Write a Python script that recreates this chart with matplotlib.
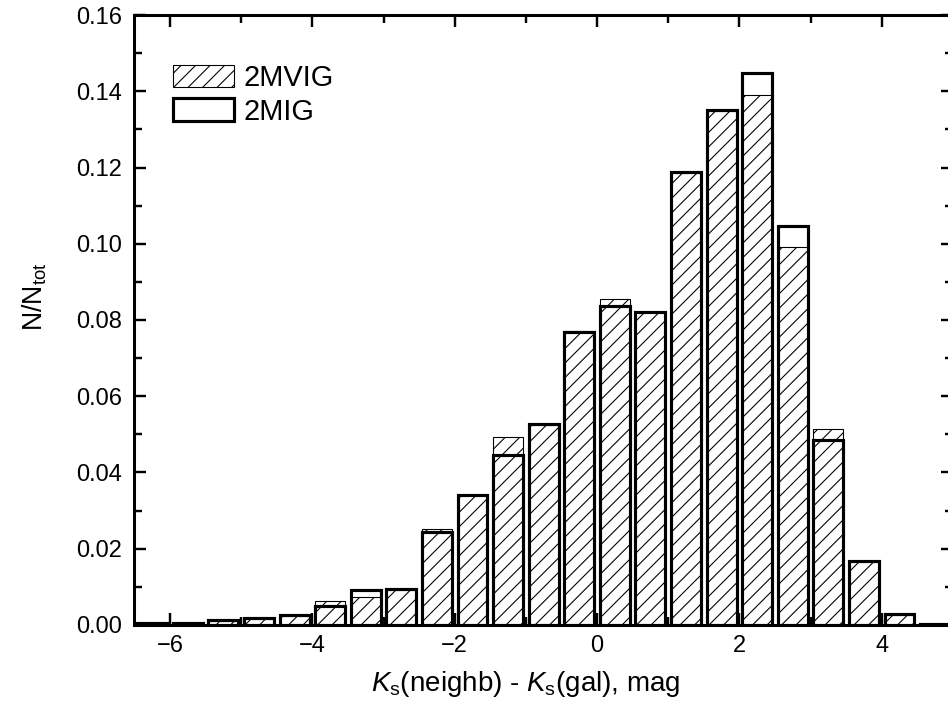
import matplotlib
matplotlib.use("Agg")
import matplotlib.pyplot as plt
from matplotlib.patches import Patch
from matplotlib.ticker import MultipleLocator, FormatStrFormatter

plt.rcParams['font.family'] = ['Liberation Sans', 'DejaVu Sans']
plt.rcParams['mathtext.fontset'] = 'custom'
plt.rcParams['mathtext.rm'] = 'Liberation Sans'
plt.rcParams['mathtext.it'] = 'Liberation Sans:italic'
plt.rcParams['hatch.linewidth'] = 0.9

# bin centres, 0.5 mag wide
dK = [-6.25, -5.75, -5.25, -4.75, -4.25, -3.75, -3.25, -2.75, -2.25, -1.75,
      -1.25, -0.75, -0.25, 0.25, 0.75, 1.25, 1.75, 2.25, 2.75, 3.25,
      3.75, 4.25, 4.75]

frac_2mig = [0.0005, 0.0005, 0.0012, 0.0018, 0.0025, 0.0050, 0.0092, 0.0095,
             0.0243, 0.0342, 0.0447, 0.0527, 0.0769, 0.0837, 0.0822, 0.1187,
             0.1351, 0.1447, 0.1047, 0.0484, 0.0168, 0.0029, 0.0003]

frac_2mvig = [0.0005, 0.0004, 0.0010, 0.0017, 0.0024, 0.0064, 0.0073, 0.0092,
              0.0253, 0.0340, 0.0494, 0.0525, 0.0772, 0.0856, 0.0820, 0.1185,
              0.1349, 0.1390, 0.0992, 0.0514, 0.0166, 0.0027, 0.0002]

dpi = 87
fig = plt.figure(figsize=(948 / dpi, 705 / dpi), dpi=dpi)
ax = fig.add_axes([0.1418, 0.1135, 0.8634, 0.8652])

bw = 0.42
ax.bar(dK, frac_2mvig, width=bw, color='white', edgecolor='black',
       linewidth=0.9, hatch='//', zorder=2)
ax.bar(dK, frac_2mig, width=bw, facecolor='none', edgecolor='black',
       linewidth=2.6, zorder=3)

ax.set_xlim(-6.5, 5.0)
ax.set_ylim(0, 0.16)
ax.xaxis.set_major_locator(MultipleLocator(2))
ax.xaxis.set_minor_locator(MultipleLocator(1))
ax.yaxis.set_major_locator(MultipleLocator(0.02))
ax.yaxis.set_minor_locator(MultipleLocator(0.01))
ax.yaxis.set_major_formatter(FormatStrFormatter('%.2f'))

ax.tick_params(which='both', direction='in', top=True, right=True,
               width=2.0, labelsize=19.5)
ax.tick_params(axis='y', pad=10)
ax.tick_params(axis='x', pad=8)
ax.tick_params(which='major', length=10)
ax.tick_params(which='minor', length=6.5)
for s in ax.spines.values():
    s.set_linewidth(2.5)
    s.set_zorder(4)

ax.set_xlabel(r'$K_{\rm s}$(neighb) - $K_{\rm s}$(gal), mag', fontsize=23)
ax.xaxis.set_label_coords(0.478, -0.072)
ax.set_ylabel(r'N/N$_{\rm tot}$', fontsize=22)
ax.yaxis.set_label_coords(-0.104, 0.5385)

handles = [Patch(facecolor='white', edgecolor='black', linewidth=0.9, hatch='//'),
           Patch(facecolor='white', edgecolor='black', linewidth=2.6)]
ax.legend(handles, ['2MVIG', '2MIG'], loc='upper left',
          bbox_to_anchor=(0.047, 0.92), frameon=False, fontsize=24,
          handlelength=2.1, handleheight=0.8, handletextpad=0.35,
          labelspacing=0.2, borderpad=0, borderaxespad=0)

fig.savefig('out.png', dpi=dpi)
